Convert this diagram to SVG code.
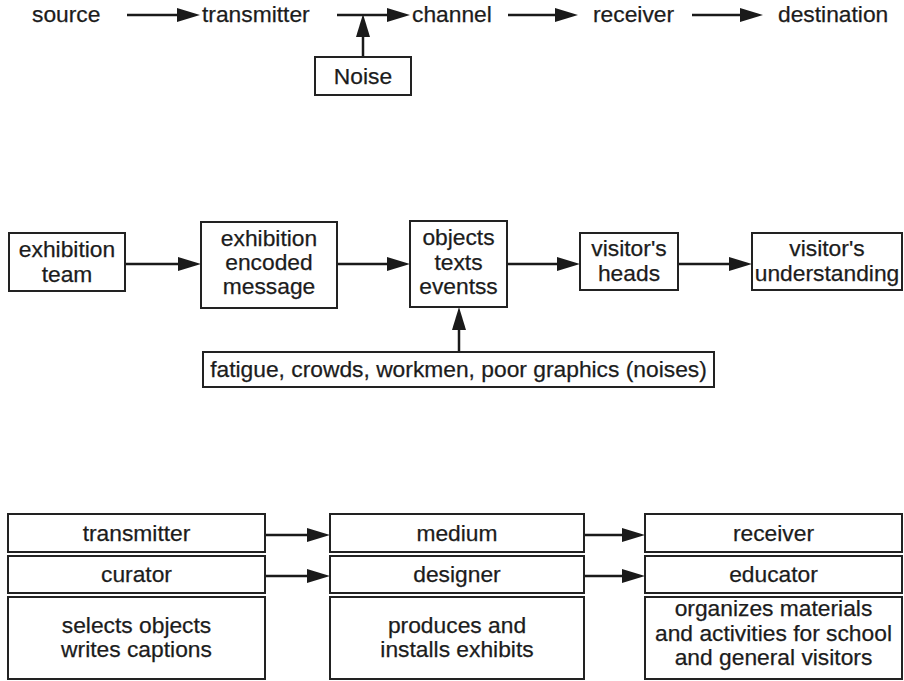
<svg xmlns="http://www.w3.org/2000/svg" width="904" height="681" viewBox="0 0 904 681">
<defs>
<marker id="ah" markerUnits="userSpaceOnUse" markerWidth="23" markerHeight="14" refX="14" refY="7" orient="auto">
<path d="M0,0 L23,7 L0,14 z" fill="#1a1a1a"/>
</marker>
<style>
text{font-family:"Liberation Sans",Arial,sans-serif;font-size:22.8px;fill:#1c1c1c;stroke:#1c1c1c;stroke-width:0.25}
.c{text-anchor:middle}
rect{fill:#fff;stroke:#222;stroke-width:2}
.cn line{stroke:#1a1a1a;stroke-width:2.5;marker-end:url(#ah)}
</style>
</defs>
<rect x="0" y="0" width="904" height="681" style="fill:#fff;stroke:none"/>
<g class="cn" id="connectors">
<line x1="127" y1="15" x2="191" y2="15"/>
<line x1="337" y1="15" x2="401" y2="15"/>
<line x1="508" y1="15" x2="569" y2="15"/>
<line x1="692" y1="15" x2="754" y2="15"/>
<line x1="363" y1="57" x2="363" y2="23"/>
<line x1="125" y1="264" x2="192" y2="264"/>
<line x1="337" y1="264" x2="401" y2="264"/>
<line x1="507" y1="264" x2="571" y2="264"/>
<line x1="678" y1="264" x2="743" y2="264"/>
<line x1="459" y1="352" x2="459" y2="316"/>
<line x1="265" y1="535" x2="321" y2="535"/>
<line x1="265" y1="576" x2="321" y2="576"/>
<line x1="584" y1="535" x2="636" y2="535"/>
<line x1="584" y1="576" x2="636" y2="576"/>
</g>
<g id="source"><text x="32" y="22">source</text></g>
<g id="transmitter"><text x="202" y="22">transmitter</text></g>
<g id="channel"><text x="412" y="22">channel</text></g>
<g id="receiver"><text x="593" y="22">receiver</text></g>
<g id="destination"><text x="778" y="22">destination</text></g>
<g id="noise"><rect x="315" y="57" width="96" height="38"/><text class="c" x="363" y="84">Noise</text></g>
<g id="exhibition-team"><rect x="9" y="233" width="116" height="58"/><text class="c" x="67" y="257">exhibition</text><text class="c" x="67" y="282">team</text></g>
<g id="encoded-message"><rect x="201" y="222" width="136" height="86"/><text class="c" x="269" y="246">exhibition</text><text class="c" x="269" y="270">encoded</text><text class="c" x="269" y="294">message</text></g>
<g id="objects"><rect x="410" y="221" width="97" height="86"/><text class="c" x="458.5" y="245">objects</text><text class="c" x="458.5" y="270">texts</text><text class="c" x="458.5" y="294">eventss</text></g>
<g id="visitors-heads"><rect x="580" y="233" width="98" height="57"/><text class="c" x="629" y="256">visitor's</text><text class="c" x="629" y="281">heads</text></g>
<g id="visitors-understanding"><rect x="752" y="233" width="150" height="57"/><text class="c" x="827" y="256">visitor's</text><text class="c" x="827" y="281">understanding</text></g>
<g id="noises"><rect x="203" y="352" width="511" height="35"/><text class="c" x="458.5" y="377">fatigue, crowds, workmen, poor graphics (noises)</text></g>
<g id="col-transmitter">
<rect x="8" y="514" width="257" height="38"/><text class="c" x="136.5" y="541">transmitter</text>
<rect x="8" y="556" width="257" height="37"/><text class="c" x="136.5" y="582">curator</text>
<rect x="8" y="597" width="257" height="82"/><text class="c" x="136.5" y="633">selects objects</text><text class="c" x="136.5" y="657">writes captions</text>
</g>
<g id="col-medium">
<rect x="330" y="514" width="254" height="38"/><text class="c" x="457" y="541">medium</text>
<rect x="330" y="556" width="254" height="37"/><text class="c" x="457" y="582">designer</text>
<rect x="330" y="597" width="254" height="82"/><text class="c" x="457" y="633">produces and</text><text class="c" x="457" y="657">installs exhibits</text>
</g>
<g id="col-receiver">
<rect x="645" y="514" width="257" height="38"/><text class="c" x="773.5" y="541">receiver</text>
<rect x="645" y="556" width="257" height="37"/><text class="c" x="773.5" y="582">educator</text>
<rect x="645" y="597" width="257" height="82"/><text class="c" x="773.5" y="616">organizes materials</text><text class="c" x="773.5" y="641">and activities for school</text><text class="c" x="773.5" y="665">and general visitors</text>
</g>
</svg>
